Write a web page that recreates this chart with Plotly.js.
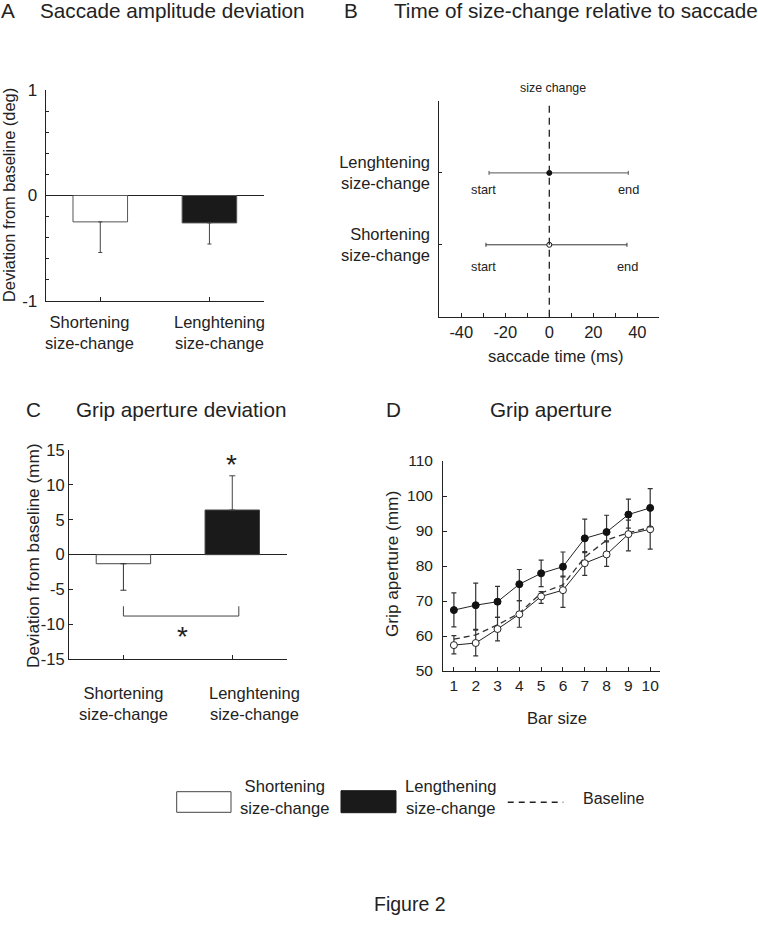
<!DOCTYPE html>
<html><head><meta charset="utf-8">
<script src="https://cdn.plot.ly/plotly-3.0.1.min.js"></script>
<style>body{margin:0;background:#fff}#chart{width:758px;height:946px}</style>
</head><body><div id="chart"></div>
<script>
const W = 758, H = 946;
// ---- Panel A: saccade amplitude deviation (deg)
const categories = ['Shortening<br>size-change', 'Lenghtening<br>size-change'];
const saccDev = [-0.25, -0.26];
const saccErr = [0.29, 0.20];
const aTickVals = [-1, 0, 1];
const aTickText = ['-1', '0', '1'];
// ---- Panel B: time of size change relative to saccade (ms)
const timeRows = ['Shortening<br>size-change', 'Lenghtening<br>size-change'];
const rowPos = [1, 2];
const sizeChangeTime = [0, 0];
const saccStart = [-28.8, -27.4];
const saccEnd = [35.3, 35.9];
const bTickVals = [-40, -30, -20, -10, 0, 10, 20, 30, 40];
const bTickText = ['-40', '', '-20', '', '0', '', '20', '', '40'];
// ---- Panel C: grip aperture deviation (mm)
const gripDev = [-1.3, 6.4];
const gripErr = [3.8, 4.9];
const cTickVals = [-15, -10, -5, 0, 5, 10, 15];
const cTickText = ['-15', '-10', '-5', '0', '5', '10', '15'];
// ---- Panel D: grip aperture (mm) per bar size
const barSize = [1, 2, 3, 4, 5, 6, 7, 8, 9, 10];
const lengthening = [67.4, 68.8, 69.8, 74.8, 77.9, 79.8, 87.9, 89.7, 94.7, 96.6];
const lengthUp    = [72.3, 75.1, 74.2, 79.0, 81.7, 84.0, 93.4, 94.5, 99.1, 102.1];
const lengthLo    = [62.6, 61.9, 65.3, 70.1, 74.1, 76.9, 83.8, 86.9, 90.8, 91.2];
const shortening  = [57.4, 58.0, 62.0, 66.2, 71.3, 73.1, 80.8, 83.3, 89.1, 90.5];
const shortUp     = [60.1, 61.7, 65.3, 70.1, 72.7, 77.1, 84.1, 87.2, 93.1, 96.0];
const shortLo     = [54.9, 54.3, 58.6, 62.5, 69.3, 68.2, 77.3, 79.9, 84.3, 84.8];
const baseline    = [59.1, 60.3, 63.2, 66.5, 72.3, 74.6, 82.5, 87.4, 89.5, 91.0];

const FONT = 'Liberation Sans, Arial, Helvetica, sans-serif';
const INK = '#222';
const px = x => x / W;
const py = y => 1 - y / H;
const diff = (a, b) => a.map((v, i) => v - b[i]);

const traces = [
  // A
  {type: 'bar', x: [0], y: [saccDev[0]], width: 0.5, xaxis: 'x', yaxis: 'y',
   marker: {color: '#ffffff', line: {color: '#555', width: 1}},
   error_y: {type: 'data', symmetric: false, array: [0], arrayminus: [saccErr[0]], color: '#444', thickness: 1, width: 2}},
  {type: 'bar', x: [1], y: [saccDev[1]], width: 0.5, xaxis: 'x', yaxis: 'y',
   marker: {color: '#1a1a1a', line: {color: '#555', width: 1}},
   error_y: {type: 'data', symmetric: false, array: [0], arrayminus: [saccErr[1]], color: '#444', thickness: 1, width: 2}},
  // B
  {type: 'scatter', mode: 'markers', x: [sizeChangeTime[1]], y: [rowPos[1]], xaxis: 'x2', yaxis: 'y2',
   marker: {size: 5, color: '#111', line: {color: '#111', width: 1}},
   error_x: {type: 'data', symmetric: false, array: [saccEnd[1] - sizeChangeTime[1]], arrayminus: [sizeChangeTime[1] - saccStart[1]], color: '#555', thickness: 1, width: 2}},
  {type: 'scatter', mode: 'markers', x: [sizeChangeTime[0]], y: [rowPos[0]], xaxis: 'x2', yaxis: 'y2',
   marker: {size: 5, color: '#fff', line: {color: '#111', width: 1}},
   error_x: {type: 'data', symmetric: false, array: [saccEnd[0] - sizeChangeTime[0]], arrayminus: [sizeChangeTime[0] - saccStart[0]], color: '#333', thickness: 1, width: 2}},
  // C
  {type: 'bar', x: [0], y: [gripDev[0]], width: 0.5, xaxis: 'x3', yaxis: 'y3',
   marker: {color: '#ffffff', line: {color: '#444', width: 1}},
   error_y: {type: 'data', symmetric: false, array: [0], arrayminus: [gripErr[0]], color: '#333', thickness: 1, width: 3}},
  {type: 'bar', x: [1], y: [gripDev[1]], width: 0.5, xaxis: 'x3', yaxis: 'y3',
   marker: {color: '#1a1a1a', line: {color: '#444', width: 1}},
   error_y: {type: 'data', symmetric: false, array: [gripErr[1]], arrayminus: [0], color: '#444', thickness: 1, width: 3}},
  // D
  {type: 'scatter', mode: 'lines', x: barSize, y: baseline, xaxis: 'x4', yaxis: 'y4',
   line: {color: '#333', width: 1.3, dash: '6px,4px'}},
  {type: 'scatter', mode: 'lines+markers', x: barSize, y: shortening, xaxis: 'x4', yaxis: 'y4',
   line: {color: INK, width: 1}, marker: {size: 7, color: '#fff', line: {color: INK, width: 1}},
   error_y: {type: 'data', symmetric: false, array: diff(shortUp, shortening), arrayminus: diff(shortening, shortLo), color: '#333', thickness: 1.2, width: 2.5}},
  {type: 'scatter', mode: 'lines+markers', x: barSize, y: lengthening, xaxis: 'x4', yaxis: 'y4',
   line: {color: INK, width: 1}, marker: {size: 7, color: '#111', line: {color: '#111', width: 1}},
   error_y: {type: 'data', symmetric: false, array: diff(lengthUp, lengthening), arrayminus: diff(lengthening, lengthLo), color: '#333', thickness: 1.2, width: 2.5}}
];

const axBase = {showline: true, linecolor: INK, linewidth: 1, showgrid: false, zeroline: false,
  ticks: 'inside', ticklen: 4, tickcolor: INK, tickwidth: 1, fixedrange: true, automargin: false,
  tickfont: {family: FONT, size: 15.5, color: INK}};

const layout = {
  width: W, height: H, margin: {l: 0, r: 0, t: 0, b: 0},
  paper_bgcolor: '#fff', plot_bgcolor: 'rgba(0,0,0,0)', showlegend: false,
  font: {family: FONT, color: INK},
  xaxis: Object.assign({}, axBase, {domain: [px(45.7), px(264)], range: [-0.5, 1.5], tickvals: [0, 1], showticklabels: false, anchor: 'y'}),
  yaxis: Object.assign({}, axBase, {domain: [py(301), py(90)], range: [-1, 1], tickvals: aTickVals, ticktext: aTickText,
    zeroline: true, zerolinecolor: INK, zerolinewidth: 1, anchor: 'x', ticklabelstandoff: 4,
    tickfont: {family: FONT, size: 17, color: INK},
    minor: {dtick: 0.2, ticks: 'inside', ticklen: 3, tickcolor: INK, showgrid: false}}),
  xaxis2: Object.assign({}, axBase, {domain: [px(439.3), px(659.3)], range: [-50, 50], tickvals: bTickVals, ticktext: bTickText, anchor: 'y2',
    tickfont: {family: FONT, size: 16.5, color: INK}}),
  yaxis2: Object.assign({}, axBase, {domain: [py(316.7), py(101)], range: [0, 3], tickvals: rowPos, ticktext: timeRows, anchor: 'x2', ticklen: 3,
    tickfont: {family: FONT, size: 16.5, color: INK}, ticklabelstandoff: 5}),
  xaxis3: Object.assign({}, axBase, {domain: [px(69), px(286.7)], range: [-0.5, 1.5], tickvals: [0, 1], showticklabels: false, anchor: 'y3'}),
  yaxis3: Object.assign({}, axBase, {domain: [py(659.3), py(450)], range: [-15, 15], tickvals: cTickVals, ticktext: cTickText,
    zeroline: true, zerolinecolor: INK, zerolinewidth: 1, anchor: 'x3', tickfont: {family: FONT, size: 16.5, color: INK}}),
  xaxis4: Object.assign({}, axBase, {domain: [px(443), px(660)], range: [0.5, 10.45], tickvals: barSize, anchor: 'y4'}),
  yaxis4: Object.assign({}, axBase, {domain: [py(671), py(461)], range: [50, 110], dtick: 10, tick0: 50, anchor: 'x4', ticklabelstandoff: 6}),
  shapes: [
    {type: 'line', xref: 'x2', yref: 'y2 domain', x0: 0, x1: 0, y0: 0, y1: 1, line: {color: INK, width: 1.3, dash: '7px,5px'}},
    {type: 'path', xref: 'x3', yref: 'y3', path: 'M 0,-7.4 L 0,-8.8 L 1.06,-8.8 L 1.06,-7.4', line: {color: '#444', width: 1}},
    // legend
    {type: 'rect', xref: 'paper', yref: 'paper', x0: px(176.7), x1: px(231), y0: py(812.3), y1: py(791.7), fillcolor: '#fff', line: {color: '#444', width: 1}},
    {type: 'rect', xref: 'paper', yref: 'paper', x0: px(341), x1: px(396), y0: py(812.7), y1: py(790.7), fillcolor: '#1a1a1a', line: {color: '#1a1a1a', width: 1}},
    {type: 'line', xref: 'paper', yref: 'paper', x0: px(507.7), x1: px(563.3), y0: py(802.3), y1: py(802.3), line: {color: INK, width: 1.5, dash: '6px,5px'}}
  ],
  annotations: []
};

function ann(text, x, y, size, extra) {
  layout.annotations.push(Object.assign({text: text, x: px(x), y: py(y), xref: 'paper', yref: 'paper',
    showarrow: false, xanchor: 'center', yanchor: 'middle', font: {family: FONT, size: size, color: INK}}, extra || {}));
}
const TS = 20.7;
// panel letters and titles
ann('A', -1, 10, TS, {xanchor: 'left'});
ann('Saccade amplitude deviation', 38, 10, TS, {xanchor: 'left'});
ann('B', 342, 10, TS, {xanchor: 'left'});
ann('Time of size-change relative to saccade', 392, 10, TS, {xanchor: 'left'});
ann('C', 24, 409, TS, {xanchor: 'left'});
ann('Grip aperture deviation', 74, 409, TS, {xanchor: 'left'});
ann('D', 384, 409, TS, {xanchor: 'left'});
ann('Grip aperture', 551, 409, TS);
// A labels
ann('Deviation from baseline (deg)', 9, 195, 16.4, {textangle: -90});
ann(categories[0], 89, 332, 16.5);
ann(categories[1], 219, 332, 16.5);
// B labels
ann('size change', 553, 88, 12.4);
ann('start', 483.5, 189.5, 12.8);
ann('end', 628.5, 189.5, 12.8);
ann('start', 483, 266.5, 12.8);
ann('end', 627, 266.5, 12.8);
ann('saccade time (ms)', 556, 356.5, 16.6);
// C labels
ann('Deviation from baseline (mm)', 33, 556, 17.2, {textangle: -90});
ann(categories[0], 123, 703, 16.5);
ann(categories[1], 254, 703, 16.5);
ann('*', 231, 464, 28);
ann('*', 182.7, 636, 28);
// D labels
ann('Grip aperture (mm)', 392, 564, 17.2, {textangle: -90});
ann('Bar size', 557, 718, 16.6);
// legend text
ann('Shortening<br>size-change', 284.5, 797, 16.6);
ann('Lengthening<br>size-change', 450, 797, 16.6);
ann('Baseline', 613, 798, 16);
ann('Figure 2', 410, 904, 19.5);

Plotly.newPlot('chart', traces, layout, {displayModeBar: false, staticPlot: true});
</script>
</body></html>
